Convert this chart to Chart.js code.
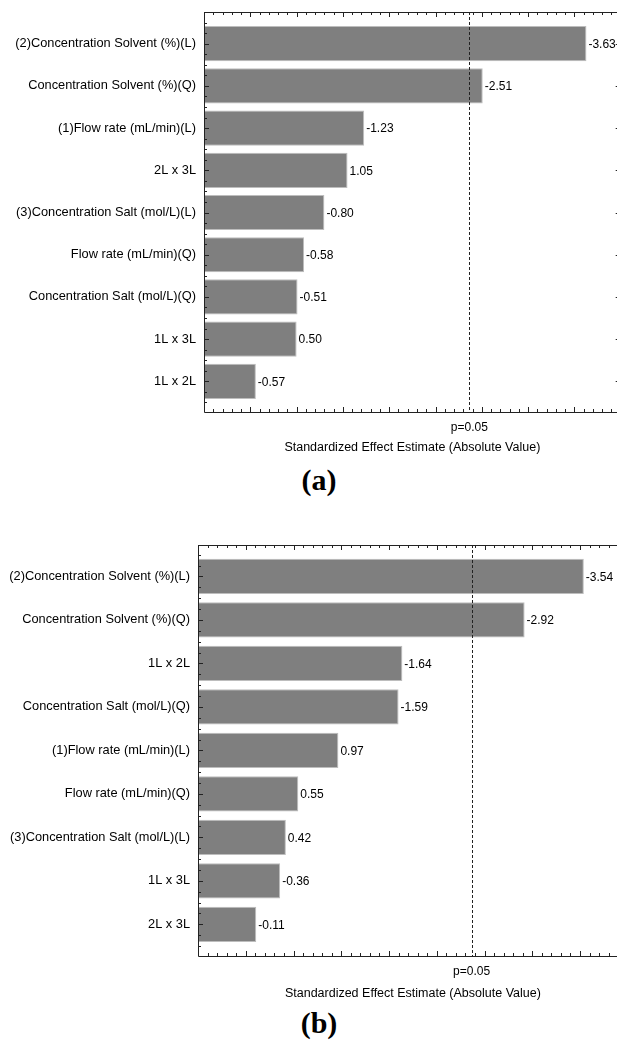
<!DOCTYPE html>
<html>
<head>
<meta charset="utf-8">
<title>Pareto charts of standardized effects</title>
<script src="https://cdn.jsdelivr.net/npm/chart.js@4.4.1/dist/chart.umd.min.js"></script>
<style>
  html, body { margin: 0; padding: 0; background: #fff; overflow: hidden; }
  .box { position: absolute; left: 0; }
  .tag {
    position: absolute; left: 270px; width: 98px; text-align: center;
    font: bold 30px "Liberation Serif", "Times New Roman", serif; line-height: 34px; color: #000;
  }
</style>
</head>
<body>
<div class="box" style="top:0"><canvas id="chartA" width="630" height="460"></canvas></div>
<div class="tag" style="top:463px">(a)</div>
<div class="box" style="top:530px"><canvas id="chartB" width="630" height="476"></canvas></div>
<div class="tag" style="top:1006px">(b)</div>

<script>
// Panel (a)
const factorsA = [
  "(2)Concentration Solvent (%)(L)",
  "Concentration Solvent (%)(Q)",
  "(1)Flow rate (mL/min)(L)",
  "2L x 3L",
  "(3)Concentration Salt (mol/L)(L)",
  "Flow rate (mL/min)(Q)",
  "Concentration Salt (mol/L)(Q)",
  "1L x 3L",
  "1L x 2L",
];
const effectsA = [3.63, 2.51, 1.23, 1.05, 0.80, 0.58, 0.51, 0.50, 0.06];
const effectTextA = ["-3.63", "-2.51", "-1.23", "1.05", "-0.80", "-0.58", "-0.51", "0.50", "-0.57"];

// Panel (b)
const factorsB = [
  "(2)Concentration Solvent (%)(L)",
  "Concentration Solvent (%)(Q)",
  "1L x 2L",
  "Concentration Salt (mol/L)(Q)",
  "(1)Flow rate (mL/min)(L)",
  "Flow rate (mL/min)(Q)",
  "(3)Concentration Salt (mol/L)(L)",
  "1L x 3L",
  "2L x 3L",
];
const effectsB = [3.54, 2.92, 1.64, 1.60, 0.97, 0.55, 0.42, 0.36, 0.11];
const effectTextB = ["-3.54", "-2.92", "-1.64", "-1.59", "0.97", "0.55", "0.42", "-0.36", "-0.11"];

// significance line and axis text
const critT = 2.365;
const critLabel = "p=0.05";
const xTitle = "Standardized Effect Estimate (Absolute Value)";
const xMin = -0.5, xMax = 4;

const FONT = "'Liberation Sans', Arial, sans-serif";
Chart.defaults.font.family = FONT;
Chart.defaults.font.size = 12;
Chart.defaults.color = "#000";

// frame, inward ticks and the dashed p line
const frameTicks = {
  id: "frameTicks",
  afterDraw(chart) {
    const { ctx, chartArea: a, scales: { x, y } } = chart;
    ctx.save();
    ctx.strokeStyle = "#222";
    ctx.lineWidth = 1;
    ctx.beginPath();
    ctx.rect(a.left + 0.5, a.top + 0.5, a.right - a.left, a.bottom - a.top);
    for (let k = Math.ceil(xMin * 10); k <= xMax * 10; k++) {
      const px = Math.round(x.getPixelForValue(k / 10)) + 0.5;
      const len = k % 5 === 0 ? 5 : 3;
      ctx.moveTo(px, a.bottom); ctx.lineTo(px, a.bottom - len);
      ctx.moveTo(px, a.top); ctx.lineTo(px, a.top + len);
    }
    for (let q = Math.ceil(y.min * 4); q <= Math.floor(y.max * 4); q++) {
      const py = Math.round(y.getPixelForValue(q / 4)) + 0.5;
      const len = q % 4 === 0 ? 5 : 3;
      ctx.moveTo(a.left, py); ctx.lineTo(a.left + len, py);
      ctx.moveTo(a.right, py); ctx.lineTo(a.right - len, py);
    }
    ctx.stroke();

    const cx = Math.round(x.getPixelForValue(critT)) + 0.5;
    ctx.setLineDash([3, 2]);
    ctx.beginPath();
    ctx.moveTo(cx, a.top);
    ctx.lineTo(cx, a.bottom);
    ctx.stroke();
    ctx.restore();
  },
};

// value text right of each bar
const barText = {
  id: "barText",
  afterDatasetsDraw(chart) {
    const { ctx } = chart;
    const texts = chart.options.plugins.barText.texts;
    ctx.save();
    ctx.font = "12px " + FONT;
    ctx.fillStyle = "#000";
    ctx.textAlign = "left";
    ctx.textBaseline = "middle";
    chart.getDatasetMeta(0).data.forEach((bar, i) => {
      ctx.fillText(texts[i], bar.x + 2, bar.y + 1);
    });
    ctx.restore();
  },
};

function makePareto(id, factors, effects, texts, o) {
  const ctx = document.getElementById(id).getContext("2d");
  return new Chart(ctx, {
    type: "bar",
    data: {
      datasets: [{
        data: effects.map((v, i) => ({ x: v, y: i })),
        base: xMin,
        backgroundColor: "#7f7f7f",
        borderColor: "#bdbdbd",
        borderWidth: 1,
        categoryPercentage: 1,
        barPercentage: o.barPct,
      }],
    },
    options: {
      indexAxis: "y",
      responsive: false,
      animation: false,
      devicePixelRatio: 1,
      layout: { padding: { top: o.top, right: o.right, left: 0, bottom: 2 } },
      plugins: {
        legend: { display: false },
        tooltip: { enabled: false },
        barText: { texts },
      },
      scales: {
        x: {
          type: "linear",
          position: "bottom",
          min: xMin,
          max: xMax,
          grid: { display: false, drawTicks: false },
          border: { display: false },
          afterBuildTicks: (s) => { s.ticks = [{ value: critT }]; },
          afterFit: (s) => { s.height = o.xHeight; s.paddingLeft = 0; s.paddingRight = 0; },
          ticks: { padding: 8, maxRotation: 0, autoSkip: false, callback: () => critLabel },
          title: { display: true, text: xTitle, font: { size: 12.5 }, padding: { top: 0, bottom: 3 } },
        },
        y: {
          type: "linear",
          reverse: true,
          offset: false,
          min: o.yMin,
          max: o.yMax,
          grid: { display: false, drawTicks: false },
          border: { display: false },
          afterBuildTicks: (s) => { s.ticks = factors.map((f, i) => ({ value: i })); },
          afterFit: (s) => { s.width = o.left; s.paddingTop = 0; s.paddingBottom = 0; },
          ticks: { padding: 8, autoSkip: false, font: { size: 12.8 }, callback: (v) => factors[v] },
        },
      },
    },
    plugins: [frameTicks, barText],
  });
}

makePareto("chartA", factorsA, effectsA, effectTextA,
  { left: 204, top: 12, right: 9.3, xHeight: 46, yMin: -0.75, yMax: 8.726, barPct: 0.833 });
makePareto("chartB", factorsB, effectsB, effectTextB,
  { left: 198, top: 15, right: 2.25, xHeight: 48, yMin: -0.724, yMax: 8.729, barPct: 0.81 });
</script>
</body>
</html>
